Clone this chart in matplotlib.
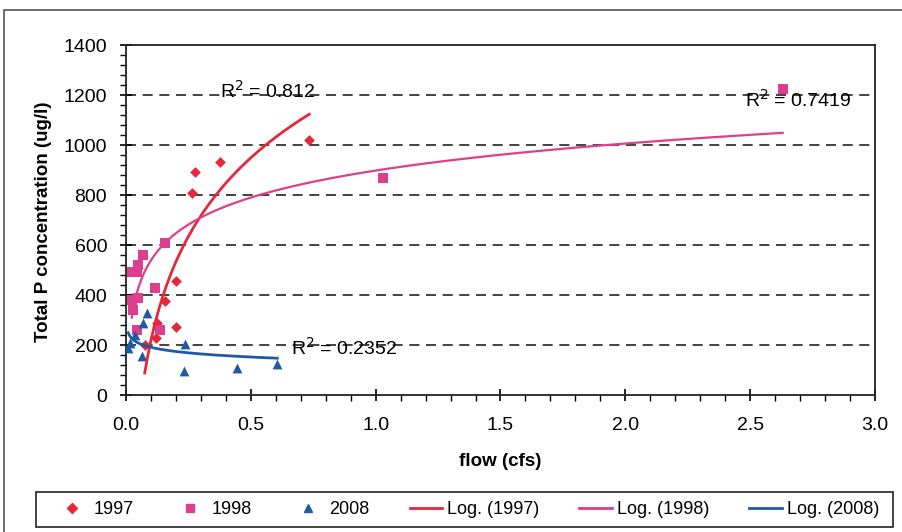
import numpy as np
import matplotlib
matplotlib.use("Agg")
import matplotlib.pyplot as plt
from matplotlib.patches import Rectangle
from matplotlib.lines import Line2D

plt.rcParams['font.family'] = ['Liberation Sans', 'DejaVu Sans']

# data (flow in cfs, total P in ug/l)
flow_1997 = [0.075, 0.12, 0.125, 0.156, 0.20, 0.20, 0.263, 0.276, 0.376, 0.734]
tp_1997 = [200, 230, 287, 376, 273, 456, 809, 893, 931, 1020]

flow_1998 = [0.023, 0.023, 0.029, 0.043, 0.043, 0.049, 0.049, 0.069, 0.116, 0.136, 0.156, 1.03, 2.63]
tp_1998 = [493, 380, 340, 260, 493, 387, 520, 560, 427, 260, 608, 870, 1225]

flow_2008 = [0.009, 0.016, 0.036, 0.063, 0.069, 0.085, 0.232, 0.236, 0.446, 0.606]
tp_2008 = [187, 207, 240, 156, 287, 327, 97, 204, 109, 124]

r2_labels = ["R$^2$ = 0.812", "R$^2$ = 0.7419", "R$^2$ = 0.2352"]

red = '#e4283a'
pink = '#dd3f8e'
blue = '#1f5aa8'

fig = plt.figure(figsize=(9.03, 5.32), dpi=100)
ax = fig.add_axes([126 / 903, 1 - 395 / 532, 749 / 903, 350 / 532])

# outer chart border
fig.patches.append(Rectangle((4 / 903, -0.05), 1.0, 1 - 10 / 532 + 0.05, transform=fig.transFigure,
                             fill=False, edgecolor='#555555', linewidth=1.2))


def log_fit(x, y):
    x = np.asarray(x, float)
    a, b = np.polyfit(np.log(x), np.asarray(y, float), 1)
    xs = np.linspace(x.min(), x.max(), 200)
    return xs, a * np.log(xs) + b


ax.scatter(flow_1997, tp_1997, marker='D', s=30, color=red, zorder=3, linewidths=0)
ax.scatter(flow_1998, tp_1998, marker='s', s=46, color=pink, zorder=3, linewidths=0)
ax.scatter(flow_2008, tp_2008, marker='^', s=50, color=blue, zorder=3, linewidths=0)

for fx, ty, c in [(flow_1997, tp_1997, red), (flow_1998, tp_1998, pink), (flow_2008, tp_2008, blue)]:
    xs, ys = log_fit(fx, ty)
    ax.plot(xs, ys, color=c, lw=2 if c != pink else 1.6, zorder=4)

ax.text(0.376, 1215, r2_labels[0], fontsize=14, va='center', ha='left')
ax.text(2.48, 1180, r2_labels[1], fontsize=14, va='center', ha='left')
ax.text(0.66, 190, r2_labels[2], fontsize=14, va='center', ha='left')

ax.set_xlim(0, 3.0)
ax.set_ylim(0, 1400)
ax.set_xticks(np.arange(0, 3.01, 0.5))
ax.set_xticklabels([f"{v:.1f}" for v in np.arange(0, 3.01, 0.5)])
ax.set_xticks(np.arange(0, 3.01, 0.1), minor=True)
ax.set_yticks(np.arange(0, 1401, 200))
ax.set_yticks(np.arange(0, 1401, 40), minor=True)
ax.tick_params(which='major', direction='inout', length=9, width=1.2, labelsize=14)
ax.tick_params(which='minor', direction='out', length=4, width=1)
ax.tick_params(axis='x', which='major', pad=11)
ax.tick_params(axis='y', which='major', pad=9)

for v in range(200, 1400, 200):
    ax.axhline(v, color='#222222', lw=1.2, ls=(0, (6, 4)), zorder=1)

for s in ax.spines.values():
    s.set_linewidth(1.3)
    s.set_color('#222222')

fig.text(500 / 903, 1 - 462 / 532, 'flow (cfs)', fontsize=13.5, fontweight='bold', ha='center', va='center')
fig.text(44 / 903, 1 - 222 / 532, 'Total P concentration (ug/l)', fontsize=13.5, fontweight='bold',
         ha='center', va='center', rotation=90)

# legend box drawn separately so the padding can differ from the text spacing
fig.patches.append(Rectangle((36 / 903, 1 - 527 / 532), 857 / 903, 35 / 532, transform=fig.transFigure,
                             fill=False, edgecolor='#222222', linewidth=1.2))
handles = [
    Line2D([], [], ls='none', marker='D', markersize=5, color=red),
    Line2D([], [], ls='none', marker='s', markersize=6, color=pink),
    Line2D([], [], ls='none', marker='^', markersize=6, color=blue),
    Line2D([], [], color=red, lw=2),
    Line2D([], [], color=pink, lw=2),
    Line2D([], [], color=blue, lw=2),
]
labels = ['1997', '1998', '2008', 'Log. (1997)', 'Log. (1998)', 'Log. (2008)']
fig.legend(handles, labels, ncol=6, loc='center left',
           bbox_to_anchor=(56 / 903, 1 - 510 / 532),
           fontsize=13, frameon=False, borderpad=0, borderaxespad=0,
           handlelength=1.8, handletextpad=0.3, columnspacing=2.2)

fig.savefig('out.png', dpi=100)
